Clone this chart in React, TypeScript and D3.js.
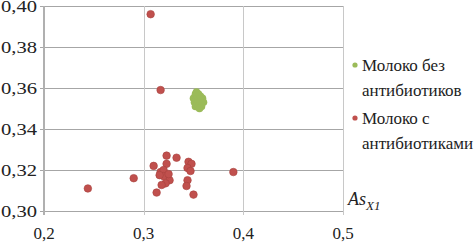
import { useRef, useEffect } from "react";
import { select, scaleLinear } from "d3";

// data
const xTicks = [0.2, 0.3, 0.4, 0.5];
const yTicks = [0.3, 0.32, 0.34, 0.36, 0.38, 0.4];

const seriesNames = ["Молоко без антибиотиков", "Молоко с антибиотиками"];

// milk without antibiotics (tight cluster)
const cleanX = [0.352, 0.355, 0.35, 0.353, 0.356, 0.359, 0.351, 0.354, 0.357, 0.36, 0.352, 0.355, 0.358, 0.356, 0.354, 0.357, 0.353];
const cleanY = [0.357, 0.357, 0.355, 0.355, 0.355, 0.355, 0.353, 0.353, 0.353, 0.353, 0.351, 0.351, 0.351, 0.35, 0.356, 0.356, 0.358];

// milk with antibiotics
const abX = [0.307, 0.317, 0.31, 0.323, 0.333, 0.323, 0.317, 0.32, 0.32, 0.326, 0.322, 0.318, 0.313, 0.345, 0.348, 0.344, 0.347, 0.344, 0.343, 0.35, 0.39, 0.244, 0.29, 0.325, 0.316];
const abY = [0.396, 0.359, 0.322, 0.327, 0.326, 0.323, 0.319, 0.32, 0.317, 0.315, 0.3135, 0.3127, 0.309, 0.324, 0.323, 0.321, 0.3195, 0.315, 0.3122, 0.308, 0.319, 0.311, 0.316, 0.318, 0.3175];

const fmt = (v: number, d: number) => v.toFixed(d).replace(".", ",");
const serif = "Liberation Serif, Times New Roman, serif";

const App = () => {
  const svgRef = useRef<SVGSVGElement>(null);

  useEffect(() => {
    const svg = select(svgRef.current);
    svg.selectAll("*").remove();

    const x = scaleLinear().domain([0.2, 0.5]).range([44, 343]);
    const y = scaleLinear().domain([0.3, 0.4]).range([211, 6]);

    // horizontal grid
    svg
      .append("g")
      .selectAll("line")
      .data(yTicks)
      .join("line")
      .attr("x1", x(0.2) - 4)
      .attr("x2", x(0.5))
      .attr("y1", (d) => Math.round(y(d)) + 0.5)
      .attr("y2", (d) => Math.round(y(d)) + 0.5)
      .attr("stroke", "#a6a6a6")
      .attr("stroke-width", 1);

    // vertical grid
    svg
      .append("g")
      .selectAll("line")
      .data(xTicks.slice(1))
      .join("line")
      .attr("x1", (d) => Math.round(x(d)) + 0.5)
      .attr("x2", (d) => Math.round(x(d)) + 0.5)
      .attr("y1", y(0.4))
      .attr("y2", y(0.3) + 4)
      .attr("stroke", "#c8c8c8")
      .attr("stroke-width", 1);

    // y axis line
    svg
      .append("line")
      .attr("x1", x(0.2))
      .attr("x2", x(0.2))
      .attr("y1", y(0.4))
      .attr("y2", y(0.3) + 4)
      .attr("stroke", "#b0b0b0")
      .attr("stroke-width", 2);

    // y labels
    svg
      .append("g")
      .selectAll("text")
      .data(yTicks)
      .join("text")
      .attr("x", 37)
      .attr("y", (d) => y(d) + 6)
      .attr("text-anchor", "end")
      .attr("textLength", 36)
      .attr("lengthAdjust", "spacingAndGlyphs")
      .attr("font-family", serif)
      .attr("font-size", 16)
      .attr("fill", "#222")
      .text((d) => fmt(d, 2));

    // x labels
    svg
      .append("g")
      .selectAll("text")
      .data(xTicks)
      .join("text")
      .attr("x", (d) => x(d))
      .attr("y", 239)
      .attr("text-anchor", "middle")
      .attr("font-family", serif)
      .attr("font-size", 17)
      .attr("fill", "#222")
      .text((d) => fmt(d, 1));

    // points
    svg
      .append("g")
      .selectAll("circle")
      .data(cleanX.map((v, i) => [v, cleanY[i]]))
      .join("circle")
      .attr("cx", (d) => x(d[0]))
      .attr("cy", (d) => y(d[1]))
      .attr("r", 3.8)
      .attr("fill", "#9bbb59");

    svg
      .append("g")
      .selectAll("circle")
      .data(abX.map((v, i) => [v, abY[i]]))
      .join("circle")
      .attr("cx", (d) => x(d[0]))
      .attr("cy", (d) => y(d[1]))
      .attr("r", 3.8)
      .attr("fill", "#c0504d")
      .attr("stroke", "#a8413e")
      .attr("stroke-width", 0.6);

    // axis title
    const t = svg
      .append("text")
      .attr("x", 348)
      .attr("y", 205)
      .attr("font-family", serif)
      .attr("font-style", "italic")
      .attr("font-size", 18)
      .attr("fill", "#222");
    t.append("tspan").text("As");
    t.append("tspan").attr("dy", 5).attr("font-size", 13).text("X1");

    // legend
    const colors = ["#9bbb59", "#c0504d"];
    const legend = svg.append("g");
    seriesNames.forEach((name, i) => {
      const top = 71 + i * 53;
      const words = name.split(" ");
      legend
        .append("circle")
        .attr("cx", 355)
        .attr("cy", top - 6)
        .attr("r", 2.6)
        .attr("fill", colors[i]);
      const txt = legend
        .append("text")
        .attr("font-family", serif)
        .attr("font-size", 17)
        .attr("fill", "#222");
      txt.append("tspan").attr("x", 362).attr("y", top).text(words.slice(0, 2).join(" "));
      txt.append("tspan").attr("x", 362).attr("y", top + 25).text(words[2]);
    });
  }, []);

  return (
    <svg
      ref={svgRef}
      width={475}
      height={243}
      style={{ position: "absolute", left: 0, top: 0, background: "#fff" }}
    ></svg>
  );
};

export default App;
